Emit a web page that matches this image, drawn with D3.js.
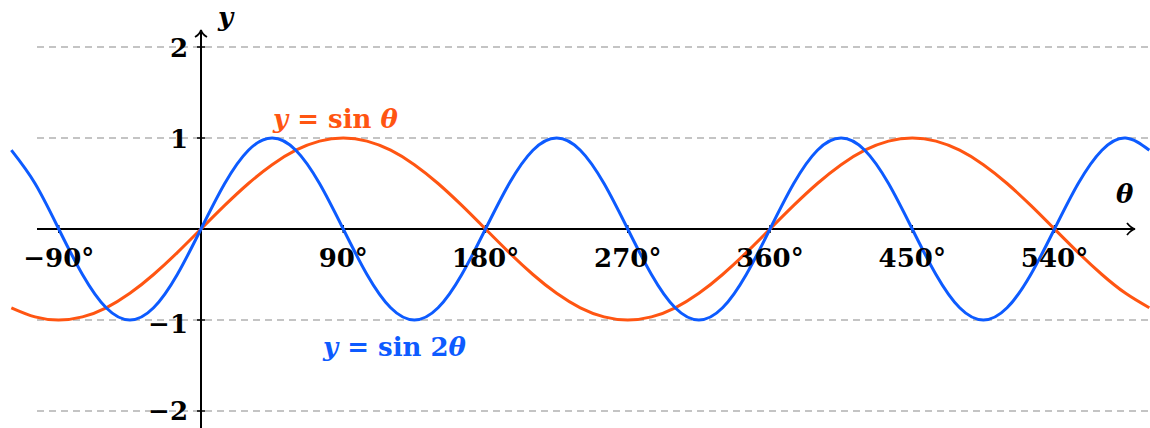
<!DOCTYPE html>
<html><head><meta charset="utf-8">
<script src="https://cdn.jsdelivr.net/npm/d3@7"></script>
<style>
html,body{margin:0;padding:0;background:#fff;}
svg{display:block;}
text{font-family:"DejaVu Serif","Liberation Serif",serif;font-weight:bold;}
</style></head>
<body>
<svg id="chart" width="1150" height="428"></svg>
<script>
// sample angles (degrees)
const thetas = [-120,-105,-90,-75,-60,-45,-30,-15,0,15,30,45,60,75,90,105,120,135,150,165,180,195,210,225,240,255,270,285,300,315,330,345,360,375,390,405,420,435,450,465,480,495,510,525,540,555,570,585,600];
// y = sin θ
const sinTheta = [-0.866,-0.966,-1,-0.966,-0.866,-0.707,-0.5,-0.259,0,0.259,0.5,0.707,0.866,0.966,1,0.966,0.866,0.707,0.5,0.259,0,-0.259,-0.5,-0.707,-0.866,-0.966,-1,-0.966,-0.866,-0.707,-0.5,-0.259,0,0.259,0.5,0.707,0.866,0.966,1,0.966,0.866,0.707,0.5,0.259,0,-0.259,-0.5,-0.707,-0.866];
// y = sin 2θ
const sin2Theta = [0.866,0.5,0,-0.5,-0.866,-1,-0.866,-0.5,0,0.5,0.866,1,0.866,0.5,0,-0.5,-0.866,-1,-0.866,-0.5,0,0.5,0.866,1,0.866,0.5,0,-0.5,-0.866,-1,-0.866,-0.5,0,0.5,0.866,1,0.866,0.5,0,-0.5,-0.866,-1,-0.866,-0.5,0,0.5,0.866,1,0.866];
const xTicks = [-90,90,180,270,360,450,540];
const xTickLabels = ["\u221290\u00b0","90\u00b0","180\u00b0","270\u00b0","360\u00b0","450\u00b0","540\u00b0"];
const yTicks = [2,1,-1,-2];
const yTickLabels = ["2","1","\u22121","\u22122"];
const gridValues = [2,1,-1,-2];

const svg = d3.select("#chart");
const W = 1150, H = 428;
// 0° at x=201, 180° at x=485.5
const x = d3.scaleLinear().domain([0,180]).range([201,485.5]);
const y = d3.scaleLinear().domain([-1,1]).range([320,138]);

const orange = "#ff5512";
const blue = "#0d5bff";

// grid lines
svg.append("g").selectAll("line").data(gridValues).join("line")
  .attr("x1",37).attr("x2",W)
  .attr("y1",d=>y(d)).attr("y2",d=>y(d))
  .attr("stroke","#c4c4c4").attr("stroke-width",2)
  .attr("stroke-dasharray","7,5");

// axes
const axisG = svg.append("g").attr("stroke","#000").attr("fill","none").attr("stroke-width",2);
axisG.append("line").attr("x1",37).attr("x2",1134).attr("y1",y(0)).attr("y2",y(0));
axisG.append("path").attr("d",`M${1127},${y(0)-6} Q${1131},${y(0)-1} ${1135},${y(0)} Q${1131},${y(0)+1} ${1127},${y(0)+6}`).attr("stroke-width",1.8);
axisG.append("line").attr("x1",x(0)).attr("x2",x(0)).attr("y1",H).attr("y2",31);
axisG.append("path").attr("d",`M${x(0)-6},${37} Q${x(0)-1},${34} ${x(0)},${30} Q${x(0)+1},${34} ${x(0)+6},${37}`).attr("stroke-width",1.8);
// ticks
axisG.selectAll("line.xt").data(xTicks).join("line").attr("class","xt")
  .attr("x1",d=>x(d)).attr("x2",d=>x(d)).attr("y1",y(0)-4).attr("y2",y(0)+4).attr("stroke-width",1.5);
axisG.selectAll("line.yt").data(yTicks).join("line").attr("class","yt")
  .attr("x1",x(0)-4).attr("x2",x(0)+4).attr("y1",d=>y(d)).attr("y2",d=>y(d)).attr("stroke-width",1.5);

// curves
const line = (vals) => d3.line().x((d,i)=>x(thetas[i])).y(d=>y(d)).curve(d3.curveNatural)(vals);
svg.append("path").attr("d",line(sinTheta)).attr("fill","none").attr("stroke",orange).attr("stroke-width",3);
svg.append("path").attr("d",line(sin2Theta)).attr("fill","none").attr("stroke",blue).attr("stroke-width",3);

// tick labels
svg.append("g").selectAll("text").data(xTicks).join("text")
  .attr("x",d=>x(d)).attr("y",267).attr("text-anchor","middle")
  .attr("font-size",26)
  .text((d,i)=>xTickLabels[i]);
svg.append("g").selectAll("text").data(yTicks).join("text")
  .attr("x",188).attr("y",d=>d===-2?420:y(d)+(d<0?13:10)).attr("text-anchor","end")
  .attr("font-size",26)
  .text((d,i)=>yTickLabels[i]);

// axis labels
svg.append("text").attr("x",218).attr("y",26).attr("font-size",26).attr("font-style","italic").text("y");
svg.append("text").attr("x",1116).attr("y",203).attr("font-size",26).attr("font-style","italic").text("\u03b8");

// curve labels
const lab1 = svg.append("text").attr("x",273).attr("y",128).attr("font-size",26).attr("fill",orange);
lab1.append("tspan").attr("font-style","italic").text("y");
lab1.append("tspan").text(" = sin ");
lab1.append("tspan").attr("font-style","italic").text("\u03b8");
const lab2 = svg.append("text").attr("x",323).attr("y",356).attr("font-size",26).attr("fill",blue);
lab2.append("tspan").attr("font-style","italic").text("y");
lab2.append("tspan").text(" = sin 2");
lab2.append("tspan").attr("font-style","italic").text("\u03b8");
</script>
</body></html>
